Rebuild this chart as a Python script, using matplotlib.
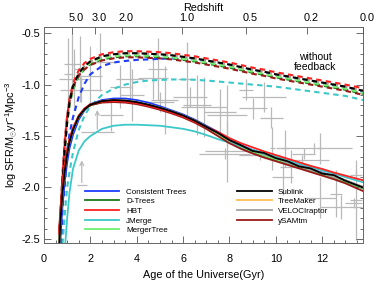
import numpy as np
import matplotlib
matplotlib.use("Agg")
import matplotlib.pyplot as plt
import matplotlib.transforms as mtransforms
from matplotlib.ticker import MultipleLocator

plt.rcParams['font.family'] = ['Liberation Sans', 'DejaVu Sans']
plt.rcParams['mathtext.fontset'] = 'custom'
plt.rcParams['mathtext.rm'] = 'Liberation Sans'
plt.rcParams['mathtext.it'] = 'Liberation Sans:italic'

# ---- data ----
ages = [0.65, 0.7, 0.75, 0.8, 0.9, 1.0, 1.1, 1.25, 1.5, 1.75, 2.0, 2.5, 3.0, 3.5, 4.0, 4.5,
        5.0, 5.5, 6.0, 6.5, 7.0, 7.5, 8.0, 8.5, 9.0, 9.5, 10.0, 10.5, 11.0, 11.5, 12.0,
        12.5, 13.0, 13.76]

nan = np.nan
# with feedback (solid)
sfr_fb = {
    "Consistent Trees": [nan, -2.55, -2.35, -2.18, -1.93, -1.76, -1.62, -1.49, -1.34, -1.25, -1.19, -1.15, -1.135, -1.135, -1.15, -1.175,
                         -1.21, -1.25, -1.29, -1.34, -1.40, -1.46, -1.53, -1.59, -1.635, -1.675, -1.71, -1.75, -1.785, -1.82, -1.855,
                         -1.89, -1.93, -1.995],
    "D-Trees": [-2.5, -2.3, -2.14, -2.0, -1.8, -1.65, -1.54, -1.43, -1.31, -1.24, -1.2, -1.17, -1.16, -1.165, -1.18, -1.205,
                -1.235, -1.27, -1.31, -1.36, -1.42, -1.49, -1.56, -1.61, -1.655, -1.695, -1.73, -1.765, -1.80, -1.835, -1.87,
                -1.905, -1.945, -2.01],
    "HBT": [-2.45, -2.28, -2.12, -1.98, -1.78, -1.64, -1.53, -1.42, -1.30, -1.23, -1.19, -1.165, -1.16, -1.165, -1.18, -1.205,
            -1.235, -1.27, -1.31, -1.36, -1.41, -1.46, -1.52, -1.57, -1.61, -1.65, -1.685, -1.72, -1.755, -1.79, -1.82,
            -1.855, -1.885, -1.93],
    "JMerge": [nan, nan, nan, nan, -2.6, -2.3, -2.05, -1.82, -1.64, -1.55, -1.50, -1.43, -1.40, -1.39, -1.39, -1.395,
               -1.40, -1.415, -1.43, -1.455, -1.49, -1.53, -1.565, -1.60, -1.635, -1.67, -1.70, -1.735, -1.77, -1.80, -1.835,
               -1.865, -1.90, -1.95],
    "MergerTree": [-2.55, -2.33, -2.16, -2.02, -1.82, -1.66, -1.55, -1.44, -1.315, -1.24, -1.2, -1.168, -1.158, -1.162, -1.178, -1.203,
                   -1.233, -1.268, -1.308, -1.357, -1.415, -1.485, -1.555, -1.605, -1.65, -1.69, -1.725, -1.76, -1.795, -1.83, -1.865,
                   -1.90, -1.94, -2.005],
    "TreeMaker": [-2.58, -2.36, -2.19, -2.04, -1.83, -1.67, -1.555, -1.44, -1.31, -1.24, -1.195, -1.16, -1.15, -1.155, -1.17, -1.195,
                  -1.225, -1.26, -1.30, -1.35, -1.41, -1.47, -1.54, -1.595, -1.64, -1.675, -1.71, -1.755, -1.79, -1.825, -1.86,
                  -1.895, -1.93, -1.995],
    "VELOCIraptor": [-2.58, -2.37, -2.2, -2.05, -1.84, -1.68, -1.56, -1.44, -1.31, -1.24, -1.195, -1.16, -1.15, -1.155, -1.17, -1.195,
                     -1.225, -1.26, -1.30, -1.35, -1.41, -1.47, -1.54, -1.60, -1.64, -1.68, -1.71, -1.76, -1.79, -1.83, -1.86,
                     -1.90, -1.93, -2.0],
    "ySAMtm": [-2.42, -2.25, -2.1, -1.97, -1.78, -1.64, -1.54, -1.43, -1.31, -1.24, -1.20, -1.175, -1.17, -1.175, -1.19, -1.215,
               -1.245, -1.28, -1.32, -1.37, -1.43, -1.50, -1.57, -1.625, -1.67, -1.71, -1.745, -1.78, -1.815, -1.85, -1.885,
               -1.92, -1.96, -2.035],
    "Sublink": [-2.6, -2.38, -2.2, -2.05, -1.84, -1.68, -1.56, -1.44, -1.31, -1.24, -1.195, -1.16, -1.15, -1.155, -1.17, -1.195,
                -1.225, -1.26, -1.30, -1.35, -1.41, -1.47, -1.54, -1.59, -1.645, -1.665, -1.715, -1.745, -1.795, -1.815, -1.865,
                -1.88, -1.935, -2.0],
}

# without feedback (dashed)
sfr_nofb = {
    "Consistent Trees": [nan, nan, -2.55, -2.2, -1.98, -1.64, -1.48, -1.32, -1.12, -0.99, -0.90, -0.82, -0.785, -0.77, -0.76, -0.755,
                         -0.75, -0.745, -0.745, -0.755, -0.77, -0.79, -0.81, -0.835, -0.86, -0.88, -0.905, -0.925, -0.945, -0.965, -0.985,
                         -1.005, -1.025, -1.07],
    "D-Trees": [-2.62, -2.42, -2.18, -1.97, -1.62, -1.37, -1.20, -1.05, -0.92, -0.85, -0.80, -0.755, -0.735, -0.725, -0.725, -0.73,
                -0.735, -0.745, -0.76, -0.775, -0.795, -0.815, -0.835, -0.86, -0.885, -0.905, -0.93, -0.95, -0.97, -0.99, -1.01,
                -1.03, -1.05, -1.09],
    "HBT": [-2.55, -2.35, -2.1, -1.9, -1.56, -1.31, -1.14, -0.99, -0.86, -0.79, -0.75, -0.705, -0.685, -0.675, -0.675, -0.68,
            -0.685, -0.695, -0.71, -0.725, -0.745, -0.765, -0.785, -0.81, -0.835, -0.855, -0.88, -0.90, -0.92, -0.94, -0.96,
            -0.98, -1.0, -1.035],
    "JMerge": [nan, nan, nan, -2.55, -2.25, -2.0, -1.85, -1.66, -1.44, -1.30, -1.21, -1.10, -1.04, -1.0, -0.975, -0.96,
               -0.955, -0.95, -0.95, -0.953, -0.96, -0.97, -0.98, -0.99, -1.0, -1.01, -1.02, -1.035, -1.05, -1.065, -1.08,
               -1.095, -1.11, -1.15],
    "MergerTree": [-2.62, -2.42, -2.18, -1.97, -1.62, -1.37, -1.2, -1.04, -0.91, -0.84, -0.79, -0.745, -0.725, -0.715, -0.715, -0.72,
                   -0.725, -0.735, -0.75, -0.765, -0.785, -0.805, -0.825, -0.85, -0.875, -0.895, -0.92, -0.94, -0.96, -0.98, -1.0,
                   -1.02, -1.04, -1.08],
    "TreeMaker": [-2.6, -2.42, -2.18, -1.96, -1.61, -1.36, -1.18, -1.02, -0.89, -0.82, -0.775, -0.725, -0.705, -0.695, -0.695, -0.70,
                  -0.705, -0.715, -0.73, -0.745, -0.765, -0.785, -0.805, -0.83, -0.855, -0.875, -0.90, -0.92, -0.94, -0.96, -0.98,
                  -1.0, -1.02, -1.06],
    "VELOCIraptor": [-2.6, -2.43, -2.19, -1.97, -1.62, -1.36, -1.18, -1.02, -0.89, -0.82, -0.775, -0.725, -0.705, -0.695, -0.695, -0.70,
                     -0.705, -0.715, -0.73, -0.745, -0.765, -0.785, -0.805, -0.83, -0.855, -0.875, -0.90, -0.92, -0.94, -0.96, -0.98,
                     -1.0, -1.02, -1.06],
    "ySAMtm": [-2.5, -2.3, -2.06, -1.86, -1.53, -1.30, -1.15, -1.02, -0.91, -0.85, -0.81, -0.765, -0.745, -0.735, -0.735, -0.74,
               -0.745, -0.755, -0.77, -0.785, -0.805, -0.825, -0.845, -0.87, -0.895, -0.915, -0.94, -0.96, -0.98, -1.0, -1.02,
               -1.04, -1.06, -1.10],
    "Sublink": [-2.62, -2.45, -2.2, -1.98, -1.62, -1.36, -1.18, -1.02, -0.89, -0.82, -0.775, -0.725, -0.705, -0.695, -0.695, -0.70,
                -0.705, -0.715, -0.73, -0.745, -0.765, -0.785, -0.805, -0.83, -0.855, -0.875, -0.90, -0.92, -0.94, -0.96, -0.98,
                -1.0, -1.02, -1.06],
}

colors = {
    "Consistent Trees": "#1e3cff",
    "D-Trees": "#1c7a1c",
    "HBT": "#ff2020",
    "JMerge": "#3cc8c8",
    "MergerTree": "#70f070",
    "TreeMaker": "#ffbe5a",
    "VELOCIraptor": "#a0a0a0",
    "ySAMtm": "#9a1a1a",
    "Sublink": "#000000",
}

legend_col1 = ["Consistent Trees", "D-Trees", "HBT", "JMerge", "MergerTree"]
legend_col2 = ["Sublink", "TreeMaker", "VELOCIraptor", "ySAMtm"]

# observational compilation (gray crosses): age, log SFRD, half-widths
obs_age = [1.2, 1.3, 2.4, 1.6, 1.55, 3.3, 3.8, 4.9, 5.2, 4.7, 5.0, 6.15, 6.6, 6.3, 6.9, 7.6, 7.9, 8.7,
           9.5, 9.0, 9.8, 9.85, 10.4, 11.9, 11.65, 11.15, 9.3, 7.9, 7.8, 10.3, 11.2, 11.9, 12.6, 13.35,
           13.45, 13.45, 12.8, 10.65, 1.05, 2.0, 3.7, 2.9]
obs_sfr = [-0.80, -0.95, -0.78, -1.05, -0.85, -1.02, -1.10, -0.85, -1.15, -0.94, -1.17, -0.95, -1.20, -1.12,
           -1.22, -1.27, -1.30, -1.05, -1.12, -1.23, -1.32, -1.62, -1.62, -1.62, -1.62, -1.73, -1.68, -1.65,
           -1.67, -1.90, -1.67, -2.10, -2.06, -2.15, -2.12, -1.88, -2.19, -1.80, -0.90, -0.92, -0.95, -1.30]
obs_age_err = [0.35, 0.65, 0.70, 0.90, 0.25, 0.45, 0.50, 0.40, 0.60, 0.65, 0.60, 0.35, 0.60, 0.75, 1.0, 0.70,
               0.85, 0.30, 0.95, 0.60, 0.50, 0.10, 0.15, 0.10, 1.65, 1.15, 0.90, 0.95, 1.10, 0.45, 0.50, 0.70,
               0.25, 0.35, 0.25, 0.25, 0.90, 0.45, 0.20, 0.50, 0.60, 0.50]
obs_sfr_err = [0.30, 0.30, 0.28, 0.12, 0.32, 0.21, 0.25, 0.30, 0.33, 0.20, 0.10, 0.36, 0.29, 0.10, 0.29, 0.23,
               0.30, 0.10, 0.15, 0.10, 0.10, 0.21, 0.18, 0.15, 0.05, 0.05, 0.05, 0.30, 0.05, 0.17, 0.05, 0.20,
               0.23, 0.05, 0.39, 0.05, 0.12, 0.16, 0.35, 0.30, 0.18, 0.15]
# lower limits (arrows)
lim_age = [1.63, 2.3]
lim_age_err = [0.21, 0.72]
lim_sfr = [-1.98, -1.46]
lim_sfr_top = [-1.71, -1.22]

redshift_ticks = [5.0, 3.0, 2.0, 1.0, 0.5, 0.2, 0.0]
redshift_labels = ["5.0", "3.0", "2.0", "1.0", "0.5", "0.2", "0.0"]


def cosmic_age(z, h0=70.4, om=0.272):
    ol = 1.0 - om
    th = 977.8 / h0
    return 2.0 * th / (3.0 * np.sqrt(ol)) * np.arcsinh(np.sqrt(ol / om) * (1.0 + np.asarray(z)) ** -1.5)


fig = plt.figure(figsize=(3.74, 2.81), dpi=100)
ax = fig.add_axes([0.1176, 0.1352, 0.853, 0.7687])

gray = "#b9b9b9"
ax.errorbar(obs_age, obs_sfr, xerr=obs_age_err, yerr=obs_sfr_err, fmt="none",
            ecolor=gray, elinewidth=0.9, capsize=0, zorder=1)
ax.errorbar(lim_age, lim_sfr, xerr=lim_age_err, fmt="none", ecolor=gray, elinewidth=0.9, capsize=0, zorder=1)
for xa, y0, y1 in zip(lim_age, lim_sfr, lim_sfr_top):
    ax.annotate("", xy=(xa, y1), xytext=(xa, y0),
                arrowprops=dict(arrowstyle="->", color=gray, lw=0.9, mutation_scale=7), zorder=1)

order = ["Consistent Trees", "D-Trees", "MergerTree", "TreeMaker", "VELOCIraptor",
         "JMerge", "ySAMtm", "HBT", "Sublink"]
for name in order:
    ax.plot(ages, sfr_nofb[name], color=colors[name], lw=1.5, dashes=(2.6, 2.0), zorder=3)
for name in order:
    ax.plot(ages, sfr_fb[name], color=colors[name], lw=1.3, zorder=4)

ax.set_xlim(0, cosmic_age(0.0))
ax.set_ylim(-2.54, -0.44)
ax.set_xticks([0, 2, 4, 6, 8, 10, 12])
ax.set_yticks([-2.5, -2.0, -1.5, -1.0, -0.5])
ax.set_yticklabels(["-2.5", "-2.0", "-1.5", "-1.0", "-0.5"])
ax.xaxis.set_minor_locator(MultipleLocator(0.5))
ax.yaxis.set_minor_locator(MultipleLocator(0.1))
ax.tick_params(which="both", direction="in", right=True, top=False, labelsize=7.8,
               color="#555555", width=0.6)
ax.tick_params(which="major", length=5)
ax.tick_params(which="minor", length=2.5)
ax.tick_params(axis="y", pad=2.5)
ax.tick_params(axis="x", pad=8)
for sp in ax.spines.values():
    sp.set_color("#666666")
    sp.set_linewidth(0.7)

ax.set_xlabel("Age of the Universe(Gyr)", fontsize=7.8, labelpad=4.5)
ax.set_ylabel(r"log SFR/M$_{\odot}$yr$^{-1}$Mpc$^{-3}$", fontsize=7.8, labelpad=1)

ax_top = ax.twiny()
ax_top.set_xlim(ax.get_xlim())
ax_top.set_xticks(cosmic_age(redshift_ticks))
ax_top.set_xticklabels(redshift_labels)
ax_top.tick_params(direction="in", length=5, labelsize=7.8, pad=3, color="#555555", width=0.6)
shift = mtransforms.ScaledTranslation(3 / 72, 0, fig.dpi_scale_trans)
for lab in ax_top.get_xticklabels():
    lab.set_transform(lab.get_transform() + shift)
ax_top.set_xlabel("Redshift", fontsize=7.8, labelpad=1.5)
for sp in ax_top.spines.values():
    sp.set_visible(False)

ax.text(11.7, -0.78, "without\nfeedback", ha="center", va="center", fontsize=7.5, linespacing=1.0)

handles1 = [plt.Line2D([], [], color=colors[n], lw=1.3) for n in legend_col1]
handles2 = [plt.Line2D([], [], color=colors[n], lw=1.3) for n in legend_col2]
handles = handles1 + handles2
labels = legend_col1 + legend_col2
ax.legend(handles, labels, ncol=2, loc="upper left", bbox_to_anchor=(0.128, 0.255),
          frameon=False, fontsize=5.8, handlelength=4.3, handletextpad=0.8,
          columnspacing=6.3, labelspacing=0.25, borderpad=0, borderaxespad=0)

fig.savefig("out.png", dpi=100)
